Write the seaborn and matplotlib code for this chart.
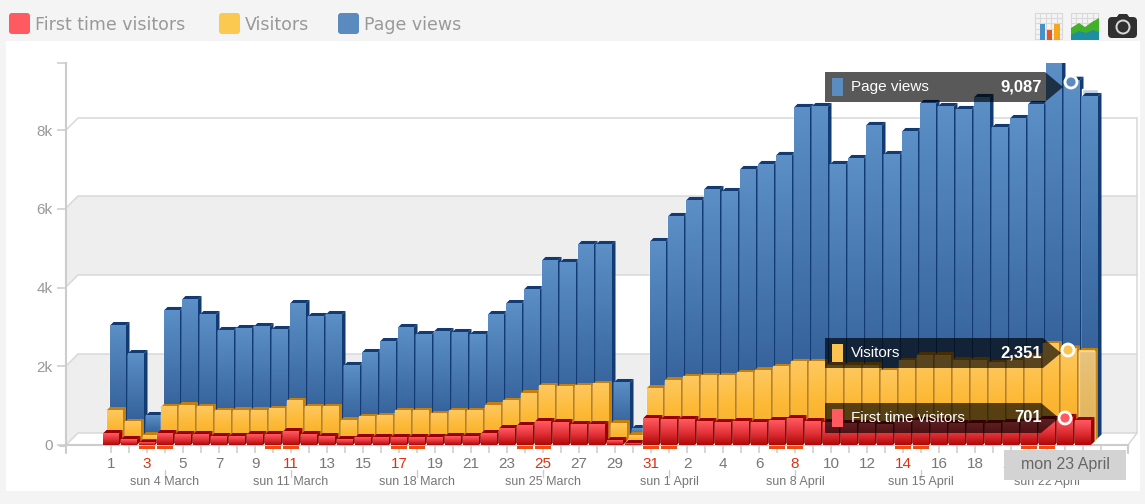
import numpy as np
import pandas as pd
import seaborn as sns
import matplotlib
matplotlib.use('Agg')
import matplotlib.pyplot as plt
from matplotlib.colors import LinearSegmentedColormap
from matplotlib.patches import Polygon, Rectangle, FancyBboxPatch, Circle
from matplotlib.transforms import Affine2D, blended_transform_factory

first_time = [292, 140, 56, 292, 267, 267, 216, 216, 267, 267, 343, 267, 216, 140, 191, 191, 191, 191, 191,
              216, 216, 292, 419, 495, 597, 572, 521, 521, 114, 38, 673, 648, 648, 597, 572, 597, 572, 622,
              673, 597, 572, 546, 546, 521, 597, 622, 597, 546, 546, 546, 572, 597, 648, 701, 622]
visitors = [787, 483, 152, 864, 914, 864, 762, 787, 787, 813, 1016, 864, 864, 533, 610, 635, 762, 762, 686,
            762, 762, 914, 1016, 1219, 1397, 1372, 1397, 1448, 457, 152, 1346, 1549, 1626, 1651, 1651, 1727,
            1803, 1880, 2007, 2007, 1930, 1930, 1930, 1778, 2032, 2184, 2184, 2057, 2057, 1981, 2057, 2159,
            2464, 2351, 2286]
page_views = [2857, 2146, 572, 3239, 3518, 3137, 2731, 2781, 2832, 2756, 3416, 3086, 3137, 1842, 2172, 2451,
              2807, 2629, 2705, 2680, 2629, 3137, 3416, 3772, 4509, 4458, 4915, 4915, 1410, 241, 4991, 5626,
              6033, 6312, 6261, 6820, 6947, 7176, 8395, 8420, 6947, 7099, 7938, 7201, 7785, 8496, 8420, 8344,
              8649, 7887, 8115, 8471, 9639, 9087, 8674]
partial_views = 8852

day_labels = ['1', '3', '5', '7', '9', '11', '13', '15', '17', '19', '21', '23', '25', '27', '29', '31',
              '2', '4', '6', '8', '10', '12', '14', '16', '18', '20', '22', '24']
red_labels = ['3', '11', '17', '25', '31', '8', '14']
weekend_days = [2, 3, 9, 10, 16, 17, 23, 24, 30, 31, 37, 38, 44, 45, 51, 52]
week_days = [3, 10, 17, 24, 31, 38, 45, 52]
week_labels = ['sun 4 March', 'sun 11 March', 'sun 18 March', 'sun 25 March',
               'sun 1 April', 'sun 8 April', 'sun 15 April', 'sun 22 April']
y_ticks = [0, 2000, 4000, 6000, 8000]
y_labels = ['0', '2k', '4k', '6k', '8k']

df = pd.DataFrame({'day': np.arange(len(page_views)), 'first': first_time,
                   'visitors': visitors, 'views': page_views})

sns.set_theme(style='white')
plt.rcParams['font.family'] = ['Liberation Sans', 'DejaVu Sans']

W, H = 1145, 504
DAY_PX = 18.0
Y_PX = 0.039375
DEPTH = 3.5

fig = plt.figure(figsize=(W / 100, H / 100), dpi=100, facecolor='#f4f4f4')
ax = fig.add_axes([66 / W, (H - 445) / H, (1128 - 66) / W, (445 - 63) / H], facecolor='none')
px = Affine2D().scale(1, -1).translate(0, H)


def fig_poly(points, color, zorder=-1, **kw):
    fig.add_artist(Polygon(points, closed=True, facecolor=color, edgecolor='none',
                           transform=px, zorder=zorder, **kw))


def fig_line(xs, ys, color='#d8d8d8', lw=1.0, zorder=-1):
    fig.add_artist(plt.Line2D(xs, ys, color=color, lw=lw, transform=px, zorder=zorder))


# chart panel and the 3d back wall
fig_poly([(6, 41), (1140, 41), (1140, 491), (6, 491)], 'white', zorder=-3)
for low, high in [(445, 366), (287, 208)]:
    fig_poly([(66, low), (78, low - 12), (1137, low - 12), (1137, high - 12), (78, high - 12), (66, high)],
             '#eeeeee', zorder=-2)
for y in [445, 366, 287, 208, 130]:
    fig_line([66, 78, 1137], [y, y - 12, y - 12], lw=1.1)
fig_line([1137, 1137], [118, 433], lw=1.1)
fig_line([1128, 1137], [445, 433], lw=1.1)
fig_poly([(66, 445), (78, 433), (1137, 433), (1128, 445)], 'white', zorder=-2)


def draw_layer(col, layer, colors, side):
    shift = ax.transData + Affine2D().translate(layer * DEPTH, layer * DEPTH)
    cmap = LinearSegmentedColormap.from_list(col, colors)
    grad = np.linspace(0, 1, 64)[:, None]
    n = len(ax.patches)
    sns.barplot(data=df, x='day', y=col, native_scale=True, width=16 / DAY_PX, color=colors[0],
                saturation=1, errorbar=None, ax=ax)
    dx, dy = DEPTH / DAY_PX, DEPTH / Y_PX
    base = (3 - layer) * 1000
    for i, bar in enumerate(ax.patches[n:]):
        x0, x1, h = bar.get_x(), bar.get_x() + bar.get_width(), bar.get_height()
        z = base + i
        bar.set_transform(shift)
        bar.set_zorder(z)
        ax.fill([x1, x1, x1 + dx, x1 + dx], [0, h, h + dy, dy], color=side, lw=0, transform=shift, zorder=z)
        ax.fill([x0, x1, x1 + dx, x0 + dx], [h, h, h + dy, h + dy], color=side, lw=0, transform=shift, zorder=z)
        ax.imshow(grad, cmap=cmap, extent=[x0, x1, 0, h], origin='upper', aspect='auto',
                  transform=shift, zorder=z + 0.5)
    return shift


last = len(page_views) - 1
blue_shift = draw_layer('views', 2, ['#5b8fc6', '#2b558f'], '#123a73')
ax.bar(last, partial_views, width=16 / DAY_PX, color='#c5d2e6', transform=blue_shift, zorder=1000 + last - 0.5)
yellow_shift = draw_layer('visitors', 1, ['#fdc85f', '#fdb935', '#f2ae2c'], '#c4800b')
red_shift = draw_layer('first', 0, ['#ff5a60', '#e23238', '#ae0808'], '#990000')
ax.bar(last, visitors[last], width=16 / DAY_PX, color='#bcbcbc', alpha=0.35, transform=yellow_shift, zorder=3000)
ax.bar(last, first_time[last], width=12 / DAY_PX, color='#bcbcbc', alpha=0.3, transform=red_shift, zorder=3001)

# axes
ax.set_xlim((66 - 111) / DAY_PX, (1128 - 111) / DAY_PX)
ax.set_ylim(0, (445 - 63) / Y_PX)
ax.set_xlabel('')
ax.set_ylabel('')
sns.despine(ax=ax, top=True, right=True)
for side in ['left', 'bottom']:
    ax.spines[side].set_color('#cccccc')
    ax.spines[side].set_linewidth(1.5)
    ax.spines[side].set_zorder(0.5)
ax.set_yticks(y_ticks + [ax.get_ylim()[1]], y_labels + [''])
ax.tick_params(axis='y', left=True, length=6.5, width=1.1, color='#cccccc', labelcolor='#999999',
               labelsize=11, pad=3)
ax.set_xticks(np.arange(0, len(day_labels) * 2, 2), day_labels)
ax.set_xticks(np.arange(1, len(page_views) + 1, 2), minor=True)
ax.tick_params(axis='x', which='both', bottom=True, length=5.5, width=1.1, color='#cccccc')
ax.tick_params(axis='x', which='major', labelcolor='#777777', labelsize=11, pad=3)
for lab in ax.get_xticklabels():
    if lab.get_text() in red_labels:
        lab.set_color('#e0300f')
fig_line([60, 66], [445.5, 445.5], color='#cccccc', lw=1.5, zorder=1)
fig_line([66, 66], [445, 453], color='#cccccc', lw=1.5, zorder=1)
fig_line([1128, 1128], [445, 453], color='#cccccc', lw=1.5, zorder=1)

x_mix = blended_transform_factory(ax.transData, px)
for d in weekend_days:
    ax.add_patch(Rectangle((d - 8 / DAY_PX, 446), 16 / DAY_PX, 3, facecolor='#f04a10', edgecolor='none',
                           transform=x_mix, clip_on=False, zorder=4000))
for d, lab in zip(week_days, week_labels):
    ax.plot([d, d], [470, 477], color='#cccccc', lw=1, transform=x_mix, clip_on=False)
    ax.text(d, 482, lab, transform=x_mix, ha='center', va='center', fontsize=9, color='#777777', clip_on=False)

# date box
fig_poly([(1004, 450), (1126, 450), (1126, 480), (1004, 480)], '#d3d3d3', zorder=4)
fig.text(1065 / W, (H - 465) / H, 'mon 23 April', ha='center', va='center', fontsize=11.5, color='#666666', zorder=5)


# tooltips
def tooltip(top, tip, label, value, color, dot):
    bot = top + 30
    mid = top + 15
    fig_poly([(825, top), (tip - 18, top), (tip, mid), (tip - 18, bot), (825, bot)], 'black', zorder=5, alpha=0.65)
    fig_poly([(832, top + 6), (843, top + 6), (843, top + 24), (832, top + 24)], color, zorder=6)
    y = (H - mid) / H
    fig.text(851 / W, y, label, ha='left', va='center', color='white', fontsize=11, zorder=6)
    fig.text(1042 / W, y, value, ha='right', va='center', color='white', fontsize=12, fontweight='bold', zorder=6)
    fig.add_artist(Circle(dot, 6, facecolor=color, edgecolor='white', lw=2, transform=px, zorder=7))


tooltip(72, 1063, 'Page views', f'{page_views[last - 1]:,}', '#5b8cc0', (1071, 82))
tooltip(338, 1061, 'Visitors', f'{visitors[last - 1]:,}', '#fbc34f', (1068, 350))
tooltip(403, 1059, 'First time visitors', f'{first_time[last - 1]:,}', '#ff5a60', (1065, 418))

# legend strip
for x, lab, color in [(9, 'First time visitors', '#ff5a60'), (219, 'Visitors', '#fbc850'), (338, 'Page views', '#5b8abf')]:
    fig.add_artist(FancyBboxPatch((x + 3, 16), 15, 15, boxstyle='round,pad=3,rounding_size=3', facecolor=color,
                                  edgecolor='none', transform=px, zorder=2))
    fig.text((x + 26) / W, (H - 25) / H, lab, ha='left', va='center', color='#999999', fontsize=12.5,
             family='DejaVu Sans', zorder=2)

# toolbar icons
for left in [1035, 1071]:
    for gx in np.linspace(left, left + 27, 6):
        fig_line([gx, gx], [13, 39], color='#d9d9d9', lw=0.8, zorder=2)
    for gy in np.linspace(13, 39, 6):
        fig_line([left, left + 27], [gy, gy], color='#d9d9d9', lw=0.8, zorder=2)
for x0, x1, top, c in [(1040, 1045, 24, '#4a90c8'), (1047, 1052, 30, '#e2572b'), (1054, 1060, 24, '#f5a81c')]:
    fig_poly([(x0, top), (x1, top), (x1, 40), (x0, 40)], c, zorder=3)
fig_poly([(1071, 28), (1079, 23), (1085, 27), (1092, 22), (1099, 18), (1099, 40), (1071, 40)], '#43b02a', zorder=3)
fig_poly([(1071, 35), (1079, 31), (1086, 33), (1093, 30), (1099, 32), (1099, 40), (1071, 40)], '#1f8e9e', zorder=3)
fig.add_artist(FancyBboxPatch((1110, 19), 25, 17, boxstyle='round,pad=2,rounding_size=4', facecolor='#303030',
                              edgecolor='none', transform=px, zorder=3))
fig_poly([(1116, 18), (1119, 14), (1127, 14), (1130, 18)], '#303030', zorder=3)
fig.add_artist(Circle((1123, 27), 7.5, facecolor='#d8d8d8', edgecolor='none', transform=px, zorder=4))
fig.add_artist(Circle((1123, 27), 5.5, facecolor='#303030', edgecolor='none', transform=px, zorder=5))

fig.savefig('out.png', dpi=100, facecolor=fig.get_facecolor())
